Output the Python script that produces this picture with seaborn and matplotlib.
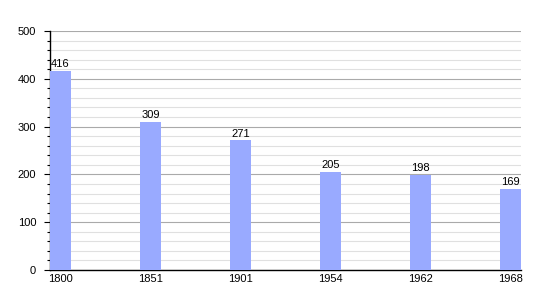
import matplotlib
matplotlib.use("Agg")
import matplotlib.pyplot as plt
import seaborn as sns
import pandas as pd
from matplotlib.ticker import MultipleLocator

years = ["1800", "1851", "1901", "1954", "1962", "1968"]
population = [416, 309, 271, 205, 198, 169]

sns.set_style("white")
plt.rcParams["font.family"] = ["Liberation Sans", "DejaVu Sans"]
plt.rcParams["text.color"] = "black"
plt.rcParams["xtick.color"] = "black"
plt.rcParams["ytick.color"] = "black"

df = pd.DataFrame({"year": years, "pop": population})

fig = plt.figure(figsize=(5.5, 3.0), dpi=100)
ax = fig.add_axes([50/550, 30/300, 471/550, 239/300])

bw = 21/90
sns.barplot(data=df, x="year", y="pop", color="#99aaff", saturation=1,
            width=bw, ax=ax, zorder=3, linewidth=0, edgecolor="none")

ax.set_xlim(-bw/2, len(years) - 1 + bw/2)
ax.set_ylim(0, 500)
ax.yaxis.set_major_locator(MultipleLocator(100))
ax.yaxis.set_minor_locator(MultipleLocator(20))
ax.grid(which="major", axis="y", color="#aaaaaa", linewidth=0.8, zorder=0)
ax.grid(which="minor", axis="y", color="#e0e0e0", linewidth=0.8, zorder=0)
ax.set_axisbelow(True)

for s in ["top", "right"]:
    ax.spines[s].set_visible(False)
for s in ["left", "bottom"]:
    ax.spines[s].set_color("black")
    ax.spines[s].set_linewidth(1.0)

ax.tick_params(axis="y", which="major", direction="out", length=4, width=0.8,
               labelsize=8, pad=6, left=True, colors="black")
ax.tick_params(axis="y", which="minor", direction="out", length=2, width=0.8,
               left=True, colors="black")
ax.tick_params(axis="x", length=0, labelsize=8, pad=3, colors="black")
ax.set_xlabel("")
ax.set_ylabel("")

for i, v in enumerate(population):
    ax.text(i, v + 4, str(v), ha="center", va="bottom", fontsize=8, color="black")

fig.savefig("out.png", dpi=100)
